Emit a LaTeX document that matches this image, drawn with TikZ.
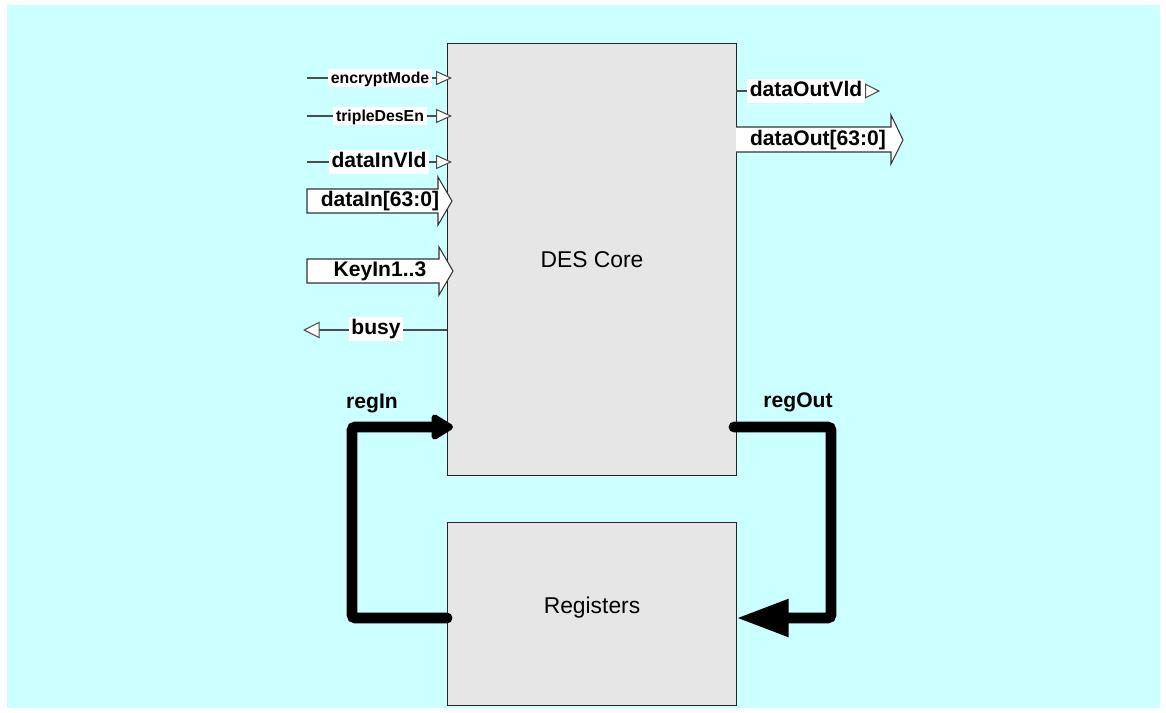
\documentclass[tikz,border=0pt]{standalone}
\usepackage{fontspec}
\setmainfont{Liberation Sans}
\usepackage{xcolor}
\usepackage{tikz}
\usetikzlibrary{
    arrows.meta,
    positioning,
}
\definecolor{bgcyan}{HTML}{CCFFFF}
\definecolor{boxgray}{HTML}{E6E6E6}

\begin{document}
\begin{tikzpicture}[
        x=0.02cm, y=-0.02cm,
        block/.style={
            rectangle, draw=black!85, fill=boxgray, line width=0.6pt,
            anchor=north west, inner sep=0pt,
            font=\fontsize{13}{15}\selectfont
        },
        sig/.style={
            draw=black!70, line width=0.6pt,
            -{Triangle[open, fill=white, length=9pt, width=8pt]}
        },
        siglabel/.style={
            fill=white, inner xsep=1.6pt, inner ysep=0pt,
            text height=0.8em, text depth=0.2em,
            font=\fontsize{9}{10}\selectfont\bfseries
        },
        biglabel/.style={
            fill=white, inner xsep=1.6pt, inner ysep=1pt,
            text height=0.92em, text depth=0.25em,
            font=\fontsize{12}{14}\selectfont\bfseries
        },
        bus/.style={draw=black!80, fill=white, line width=0.6pt},
        bustext/.style={inner sep=0pt, font=\fontsize{12}{14}\selectfont\bfseries},
        loop/.style={line width=6.2pt, line cap=round, rounded corners=2pt},
    ]

    \useasboundingbox (0,0) rectangle (1166,713);
    \fill[bgcyan] (7,5) rectangle (1160,708);

    % ── Blocks ──
    \node[block, minimum width=5.78cm, minimum height=8.64cm] (core) at (447,43) {DES Core};
    \node[block, minimum width=5.78cm, minimum height=3.66cm] (regs) at (447,522)
        {\raisebox{10pt}{Registers}};

    % ── Control inputs ──
    \coordinate (encSrc) at (307,78);
    \coordinate (encDst) at (452,78);
    \draw[sig] (encSrc) -- (encDst);
    \node[siglabel] (encLbl) at (380,78) {encryptMode};

    \coordinate (tdesSrc) at (307,116);
    \coordinate (tdesDst) at (452,116);
    \draw[sig] (tdesSrc) -- (tdesDst);
    \node[siglabel] (tdesLbl) at (380,116) {tripleDesEn};

    \coordinate (vldSrc) at (307,162);
    \coordinate (vldDst) at (452,162);
    \draw[sig] (vldSrc) -- (vldDst);
    \node[biglabel] (vldLbl) at (379,162) {dataInVld};

    % ── Input buses ──
    \draw[bus] (307,189) -- (438,189) -- (438,177) -- (452,201)
        -- (438,225) -- (438,213) -- (307,213) -- cycle;
    \node[bustext] (dataIn) at (380,201) {dataIn[63:0]};

    \draw[bus] (307,259) -- (439,259) -- (439,247) -- (453,271)
        -- (439,295) -- (439,283) -- (307,283) -- cycle;
    \node[bustext] (keyIn) at (380,271) {KeyIn1..3};

    % ── Busy output ──
    \coordinate (busySrc) at (447,330);
    \coordinate (busyDst) at (303,330);
    \draw[sig, -{Triangle[open, fill=white, length=9.5pt, width=9.5pt]}] (busySrc) -- (busyDst);
    \node[biglabel] (busyLbl) at (376,329) {busy};

    % ── Outputs ──
    \coordinate (ovldSrc) at (736,91);
    \coordinate (ovldDst) at (880,91);
    \draw[sig, -{Triangle[open, fill=white, length=8.5pt, width=8.5pt]}] (ovldSrc) -- (ovldDst);
    \node[biglabel] (ovldLbl) at (806,91) {dataOutVld};

    \draw[bus] (736,127) -- (891,127) -- (891,115) -- (903,140)
        -- (891,164) -- (891,152) -- (736,152);
    \node[bustext] (dataOut) at (818,140) {dataOut[63:0]};

    % ── Register loop ──
    \coordinate (regInSrc) at (447,618);
    \coordinate (regInDst) at (453,427);
    \draw[loop, -{Triangle[length=14pt, width=16pt, round]}]
        (regInSrc) -- (352,618) -- (352,427) -- (regInDst);
    \node[bustext] (regInLbl) at (372,403) {regIn};

    \coordinate (regOutSrc) at (734,427);
    \coordinate (regOutDst) at (736,618);
    \draw[loop, -{Triangle[length=30pt, width=20pt]}]
        (regOutSrc) -- (831,427) -- (831,618) -- (regOutDst);
    \node[bustext] (regOutLbl) at (798,402) {regOut};

\end{tikzpicture}
\end{document}
